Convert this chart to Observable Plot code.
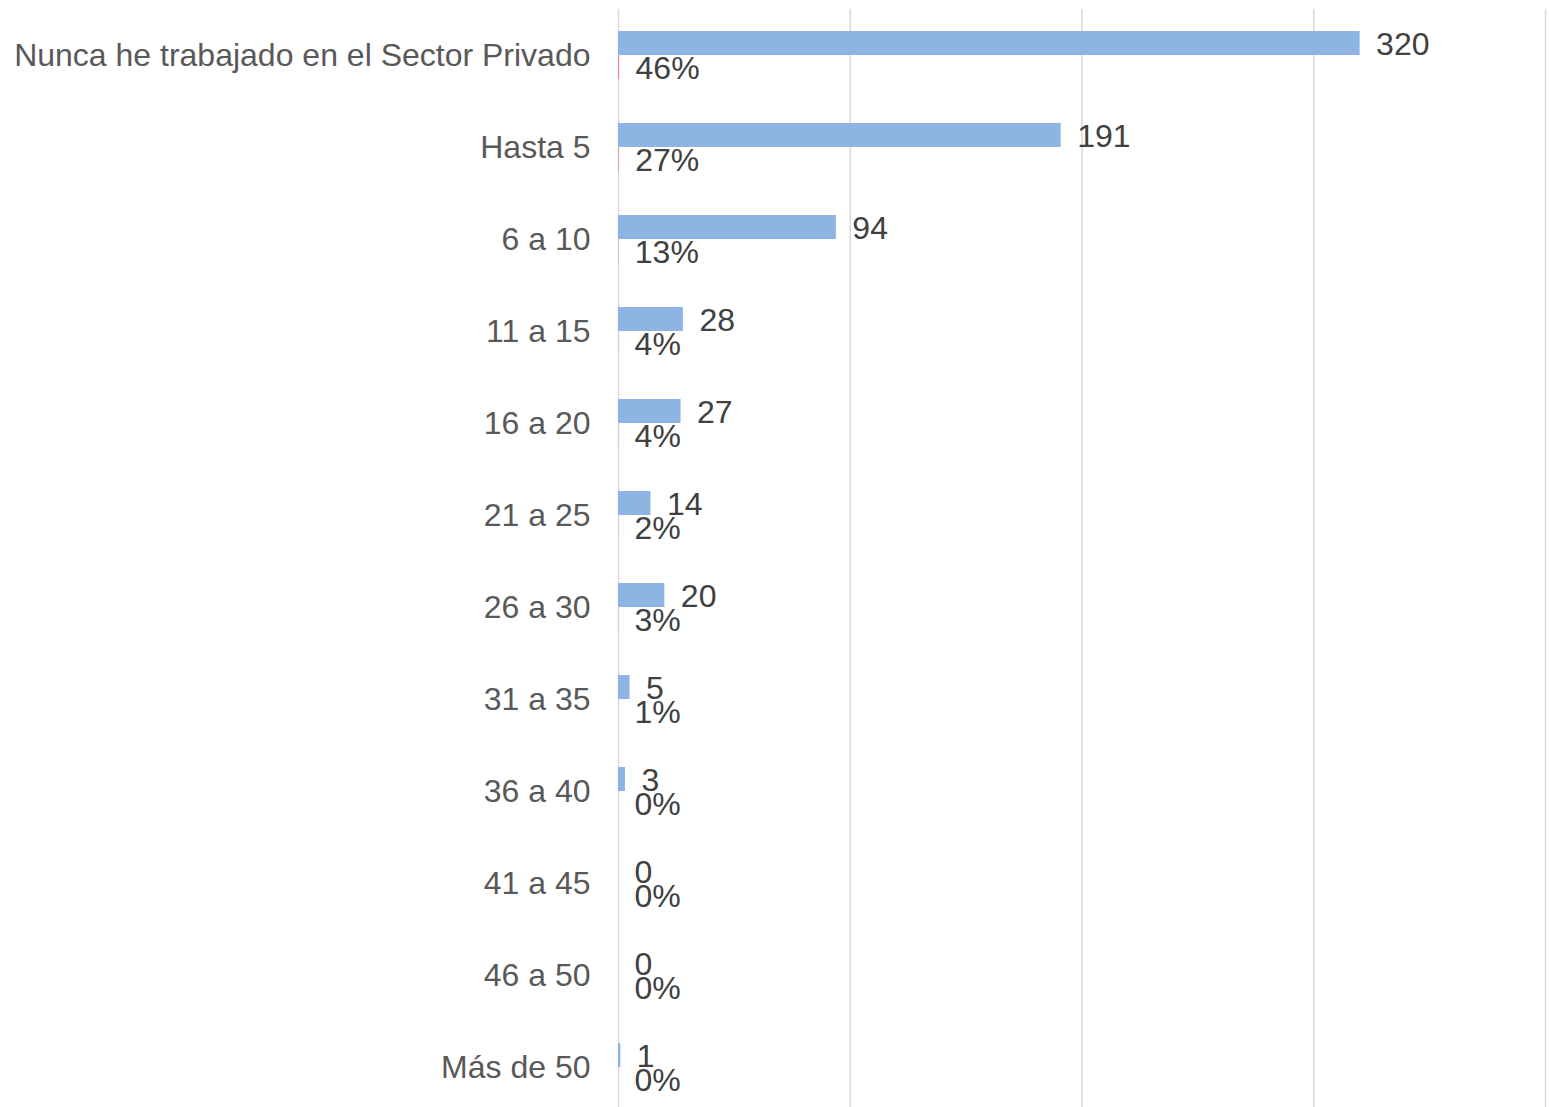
<!DOCTYPE html>
<html>
<head>
<meta charset="utf-8">
<script src="https://cdn.jsdelivr.net/npm/d3@7"></script>
<script src="https://cdn.jsdelivr.net/npm/@observablehq/plot@0.6"></script>
<style>
  html, body { margin: 0; padding: 0; background: #fff; }
  #chart { width: 1549px; height: 1107px; overflow: hidden; }
</style>
</head>
<body>
<div id="chart"></div>
<script>
const categories = ["Nunca he trabajado en el Sector Privado", "Hasta 5", "6 a 10", "11 a 15", "16 a 20", "21 a 25", "26 a 30", "31 a 35", "36 a 40", "41 a 45", "46 a 50", "Más de 50"];
const counts = [320, 191, 94, 28, 27, 14, 20, 5, 3, 0, 0, 1];
const percents = [0.46, 0.27, 0.13, 0.04, 0.04, 0.02, 0.03, 0.01, 0.00, 0.00, 0.00, 0.00];
const gridTicks = [0, 100, 200, 300, 400];

const rows = categories.map((c, i) => ({cat: c, count: counts[i], pct: percents[i], pctLabel: Math.round(percents[i] * 100) + "%"}));

const chart = Plot.plot({
  width: 1549,
  height: 1107,
  marginLeft: 618,
  marginRight: 4,
  marginTop: 9,
  marginBottom: 0,
  style: {fontFamily: "'Liberation Sans', Arial, sans-serif", background: "#fff"},
  x: {domain: [0, 400], axis: null},
  y: {domain: categories, range: [9, 1113], padding: 0, label: null, tickSize: 0, tickPadding: 28},
  marks: [
    Plot.ruleX(gridTicks, {stroke: "#d9d9d9", strokeWidth: 1.5}),
    Plot.barX(rows, {y: "cat", x: "count", fill: "#8eb4e3", insetTop: 22, insetBottom: 46}),
    Plot.barX(rows, {y: "cat", x: "pct", fill: "#e6898a", insetTop: 46, insetBottom: 22}),
    Plot.text(rows, {y: "cat", x: "count", text: d => String(d.count), dx: 16, dy: -11, textAnchor: "start", fill: "#404040", fontSize: 32}),
    Plot.text(rows, {y: "cat", x: "pct", text: "pctLabel", dx: 16, dy: 13, textAnchor: "start", fill: "#404040", fontSize: 32}),
    Plot.axisY({tickSize: 0, tickPadding: 28, fontSize: 32, color: "#595959", label: null})
  ]
});
chart.querySelectorAll("[aria-label='y-axis tick label'] text").forEach(t => t.setAttribute("fill", "#595959"));
document.getElementById("chart").appendChild(chart);
</script>
</body>
</html>
